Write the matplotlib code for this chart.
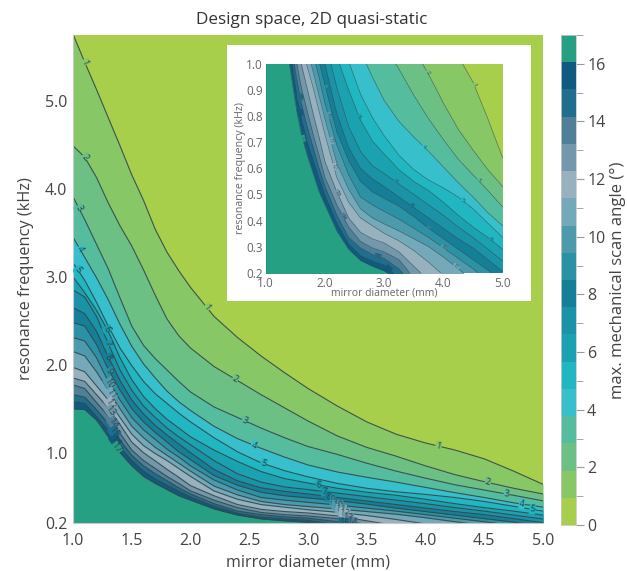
import numpy as np
import matplotlib
matplotlib.use('Agg')
import matplotlib.pyplot as plt
from matplotlib.cm import ScalarMappable
from matplotlib.colors import ListedColormap, Normalize

plt.rcParams['font.family'] = ['Open Sans', 'DejaVu Sans']

diameter = [1.0, 1.1, 1.2, 1.3, 1.4, 1.5, 1.6, 1.7, 1.8, 1.9, 2.0, 2.2, 2.4, 2.6, 2.8, 3.0,
            3.25, 3.5, 3.75, 4.0, 4.25, 4.5, 4.75, 5.0]

# resonance frequency (kHz) of each iso-angle curve, one list per angle in degrees
deg1 = [5.76, 5.44, 5.13, 4.81, 4.49, 4.16, 3.87, 3.54, 3.28, 3.07, 2.88, 2.55, 2.31, 2.10, 1.91, 1.73, 1.53, 1.35, 1.21, 1.11, 1.03, 0.93, 0.79, 0.64]
deg2 = [4.49, 4.36, 4.13, 3.84, 3.58, 3.35, 3.08, 2.79, 2.52, 2.33, 2.19, 1.98, 1.82, 1.66, 1.51, 1.36, 1.19, 1.06, 0.96, 0.85, 0.75, 0.67, 0.595, 0.53]
deg3 = [3.91, 3.65, 3.37, 3.09, 2.76, 2.44, 2.22, 2.07, 1.94, 1.81, 1.69, 1.52, 1.40, 1.28, 1.17, 1.07, 0.98, 0.88, 0.79, 0.71, 0.635, 0.575, 0.515, 0.452]
deg4 = [3.45, 3.22, 2.99, 2.74, 2.46, 2.21, 2.01, 1.85, 1.70, 1.58, 1.48, 1.30, 1.16, 1.05, 0.95, 0.86, 0.78, 0.72, 0.665, 0.605, 0.545, 0.49, 0.43, 0.38]
deg5 = [3.16, 2.96, 2.71, 2.44, 2.19, 1.99, 1.81, 1.67, 1.56, 1.45, 1.35, 1.17, 1.01, 0.885, 0.795, 0.725, 0.65, 0.595, 0.555, 0.525, 0.49, 0.445, 0.39, 0.335]
deg6 = [3.00, 2.82, 2.62, 2.38, 2.08, 1.83, 1.64, 1.50, 1.38, 1.28, 1.18, 1.03, 0.90, 0.785, 0.705, 0.655, 0.595, 0.55, 0.515, 0.47, 0.42, 0.375, 0.335, 0.29]
deg7 = [2.85, 2.77, 2.55, 2.24, 1.94, 1.71, 1.53, 1.40, 1.28, 1.18, 1.09, 0.91, 0.76, 0.665, 0.61, 0.58, 0.54, 0.50, 0.46, 0.42, 0.375, 0.335, 0.29, 0.245]
deg8 = [2.65, 2.58, 2.38, 2.09, 1.82, 1.60, 1.44, 1.31, 1.20, 1.10, 1.00, 0.81, 0.68, 0.60, 0.56, 0.53, 0.49, 0.45, 0.41, 0.37, 0.33, 0.295, 0.25, 0.204]
deg9 = [2.48, 2.44, 2.23, 1.95, 1.71, 1.50, 1.35, 1.23, 1.12, 1.01, 0.92, 0.74, 0.63, 0.55, 0.51, 0.485, 0.455, 0.415, 0.37, 0.33, 0.29, 0.25, 0.21, 0.165]
deg10 = [2.31, 2.27, 2.08, 1.81, 1.60, 1.40, 1.26, 1.15, 1.04, 0.95, 0.85, 0.69, 0.575, 0.49, 0.46, 0.435, 0.405, 0.37, 0.335, 0.295, 0.255, 0.215, 0.17, 0.13]
deg11 = [2.15, 2.10, 1.92, 1.71, 1.50, 1.30, 1.17, 1.06, 0.97, 0.88, 0.79, 0.62, 0.52, 0.445, 0.41, 0.387, 0.36, 0.33, 0.30, 0.26, 0.215, 0.17, 0.13, 0.10]
deg12 = [1.97, 1.92, 1.76, 1.60, 1.40, 1.21, 1.08, 0.99, 0.91, 0.82, 0.73, 0.565, 0.47, 0.41, 0.38, 0.351, 0.322, 0.285, 0.24, 0.19, 0.15, 0.12, 0.10, 0.08]
deg13 = [1.85, 1.81, 1.66, 1.51, 1.32, 1.12, 1.00, 0.906, 0.81, 0.72, 0.625, 0.51, 0.41, 0.355, 0.33, 0.314, 0.28, 0.225, 0.17, 0.14, 0.11, 0.09, 0.08, 0.07]
deg14 = [1.77, 1.73, 1.57, 1.42, 1.22, 1.03, 0.91, 0.82, 0.73, 0.65, 0.565, 0.46, 0.375, 0.32, 0.295, 0.28, 0.25, 0.18, 0.14, 0.11, 0.09, 0.07, 0.06, 0.05]
deg15 = [1.66, 1.63, 1.49, 1.33, 1.14, 0.97, 0.85, 0.76, 0.68, 0.60, 0.53, 0.42, 0.335, 0.295, 0.27, 0.255, 0.215, 0.15, 0.12, 0.10, 0.08, 0.06, 0.05, 0.04]
deg16 = [1.58, 1.56, 1.41, 1.25, 1.06, 0.91, 0.79, 0.70, 0.63, 0.56, 0.495, 0.39, 0.31, 0.265, 0.245, 0.23, 0.18, 0.13, 0.10, 0.08, 0.07, 0.05, 0.04, 0.03]
deg17 = [1.50, 1.49, 1.37, 1.18, 1.00, 0.85, 0.73, 0.65, 0.58, 0.51, 0.46, 0.36, 0.29, 0.247, 0.225, 0.207, 0.17, 0.12, 0.09, 0.07, 0.06, 0.05, 0.04, 0.03]

curves = [deg1, deg2, deg3, deg4, deg5, deg6, deg7, deg8, deg9, deg10, deg11, deg12,
          deg13, deg14, deg15, deg16, deg17]

band_colors = ['#A8CF4C', '#88C765', '#6DC083', '#55BD9E', '#37BFCC', '#20B7C2', '#1BA2B1', '#1B93A7', '#167F98',
               '#2A92A4', '#4C9AAC', '#74A9B9', '#97B1BE', '#7398AC', '#4F8098', '#1F6E8D', '#0F5A80', '#26A083']

# contour labels as (angle, diameter)
main_labels = [(1, 1.10), (1, 2.14), (1, 4.11), (2, 1.10), (2, 2.38), (2, 4.53), (3, 1.05), (3, 2.46), (3, 4.69),
               (4, 1.06), (4, 2.54), (4, 4.82), (5, 1.04), (5, 2.62), (5, 4.91), (6, 1.29), (6, 3.09), (7, 1.30),
               (7, 3.14), (8, 1.30), (8, 3.17), (9, 1.31), (9, 3.21), (10, 1.31), (10, 3.25), (11, 1.32), (11, 3.28),
               (12, 1.32), (12, 3.31), (13, 1.32), (13, 3.34), (14, 1.34), (14, 3.37), (15, 1.35), (15, 3.30),
               (16, 1.36), (17, 1.37)]
inset_labels = [(1, 4.52), (2, 3.73), (3, 4.59), (4, 3.67), (5, 4.32), (6, 2.575), (6, 4.80), (7, 3.19), (8, 3.46),
                (9, 3.745), (9, 2.01), (10, 4.0), (10, 2.06), (11, 4.21), (11, 2.10), (12, 2.15), (13, 2.21),
                (14, 2.305), (15, 2.89), (15, 1.58), (16, 3.07), (16, 1.58), (17, 1.62)]

main_xticks = [1.0, 1.5, 2.0, 2.5, 3.0, 3.5, 4.0, 4.5, 5.0]
main_yticks = [0.2, 1.0, 2.0, 3.0, 4.0, 5.0]
inset_xticks = [1.0, 2.0, 3.0, 4.0, 5.0]
inset_yticks = [0.2, 0.3, 0.4, 0.5, 0.6, 0.7, 0.8, 0.9, 1.0]

W, H = 627, 571


def place(x0, y0, x1, y1):
    # pixel box (top-left origin) to figure fractions
    return [x0 / W, 1 - y1 / H, (x1 - x0) / W, (y1 - y0) / H]


def draw_field(ax, line_color, line_width, line_alpha):
    ax.set_facecolor(band_colors[0])
    for i, freq in enumerate(curves):
        ax.fill_between(diameter, 0, freq, color=band_colors[i + 1], lw=0)
    for freq in curves:
        ax.plot(diameter, freq, color=line_color, lw=line_width, alpha=line_alpha, solid_joinstyle='round')


def draw_labels(ax, labels, size, color):
    for level, d in labels:
        freq = curves[level - 1]
        f = np.interp(d, diameter, freq)
        # rotate the label along the curve on screen
        p0 = ax.transData.transform((d - 0.03, np.interp(d - 0.03, diameter, freq)))
        p1 = ax.transData.transform((d + 0.03, np.interp(d + 0.03, diameter, freq)))
        angle = np.degrees(np.arctan2(p1[1] - p0[1], p1[0] - p0[0]))
        ax.text(d, f, str(level), fontsize=size, color=color, ha='center', va='center', rotation=angle,
                rotation_mode='anchor', clip_on=True,
                bbox=dict(facecolor=band_colors[level], edgecolor='none', pad=0.3))


fig = plt.figure(figsize=(W / 100, H / 100), dpi=100)

# main panel
ax = fig.add_axes(place(73, 35, 543, 523))
draw_field(ax, '#33474a', 0.8, 0.9)
ax.set_xlim(1.0, 5.0)
ax.set_ylim(0.2, 5.75)
ax.set_xticks(main_xticks, [f'{v:.1f}' for v in main_xticks])
ax.set_yticks(main_yticks, [f'{v:.1f}' for v in main_yticks])
ax.tick_params(axis='x', length=0, labelsize=11.5, labelcolor='#444444', pad=7)
ax.tick_params(axis='y', length=0, labelsize=11.5, labelcolor='#444444', pad=4)
ax.set_xlabel('mirror diameter (mm)', fontsize=11.5, color='#444444', labelpad=4)
ax.set_ylabel('resonance frequency (kHz)', fontsize=11.8, color='#444444', labelpad=8)
for side in ['top', 'right']:
    ax.spines[side].set_visible(False)
for side in ['left', 'bottom']:
    ax.spines[side].set_color('#c8c8c8')
draw_labels(ax, main_labels, 6.5, '#2c4145')

fig.text(312 / W, 1 - 20 / H, 'Design space, 2D quasi-static', fontsize=12.3, color='#333333', ha='center', va='center')

# white panel behind the inset
panel = fig.add_axes(place(227, 45, 531, 301))
panel.set_facecolor('white')
panel.set_xticks([])
panel.set_yticks([])
for s in panel.spines.values():
    s.set_visible(False)

# inset: same curves, low frequency range
inset = fig.add_axes(place(265.7, 64, 502.7, 272.7))
draw_field(inset, '#33474a', 0.5, 0.65)
inset.set_xlim(1.0, 5.0)
inset.set_ylim(0.2, 1.0)
inset.set_xticks(inset_xticks, [f'{v:.1f}' for v in inset_xticks])
inset.set_yticks(inset_yticks, [f'{v:.1f}' for v in inset_yticks])
inset.tick_params(axis='x', length=0, labelsize=8.5, labelcolor='#666666', pad=3)
inset.tick_params(axis='y', length=0, labelsize=8.5, labelcolor='#666666', pad=2)
inset.set_xlabel('mirror diameter (mm)', fontsize=7.5, color='#666666', labelpad=-2)
inset.set_ylabel('resonance frequency (kHz)', fontsize=7.7, color='#666666', labelpad=0)
for s in inset.spines.values():
    s.set_visible(False)
draw_labels(inset, inset_labels, 3.8, '#3c5256')

# colorbar, 18 equal bands over 0-17
cax = fig.add_axes(place(561, 35, 576, 525))
sm = ScalarMappable(norm=Normalize(0, 17), cmap=ListedColormap(band_colors))
cbar = fig.colorbar(sm, cax=cax, ticks=list(range(0, 17, 2)))
cax.set_yticks(list(range(1, 18, 2)), minor=True)
cax.tick_params(which='major', length=6, color='#999999', labelsize=11.5, labelcolor='#444444', pad=2)
cax.tick_params(which='minor', length=5, color='#999999')
cbar.outline.set_edgecolor('#c8c8c8')
cbar.outline.set_linewidth(0.6)
cbar.set_label('max. mechanical scan angle (°)', fontsize=12.0, color='#444444')
cax.yaxis.set_label_coords(3.3, 0.5)

fig.savefig('out.png', dpi=100)
